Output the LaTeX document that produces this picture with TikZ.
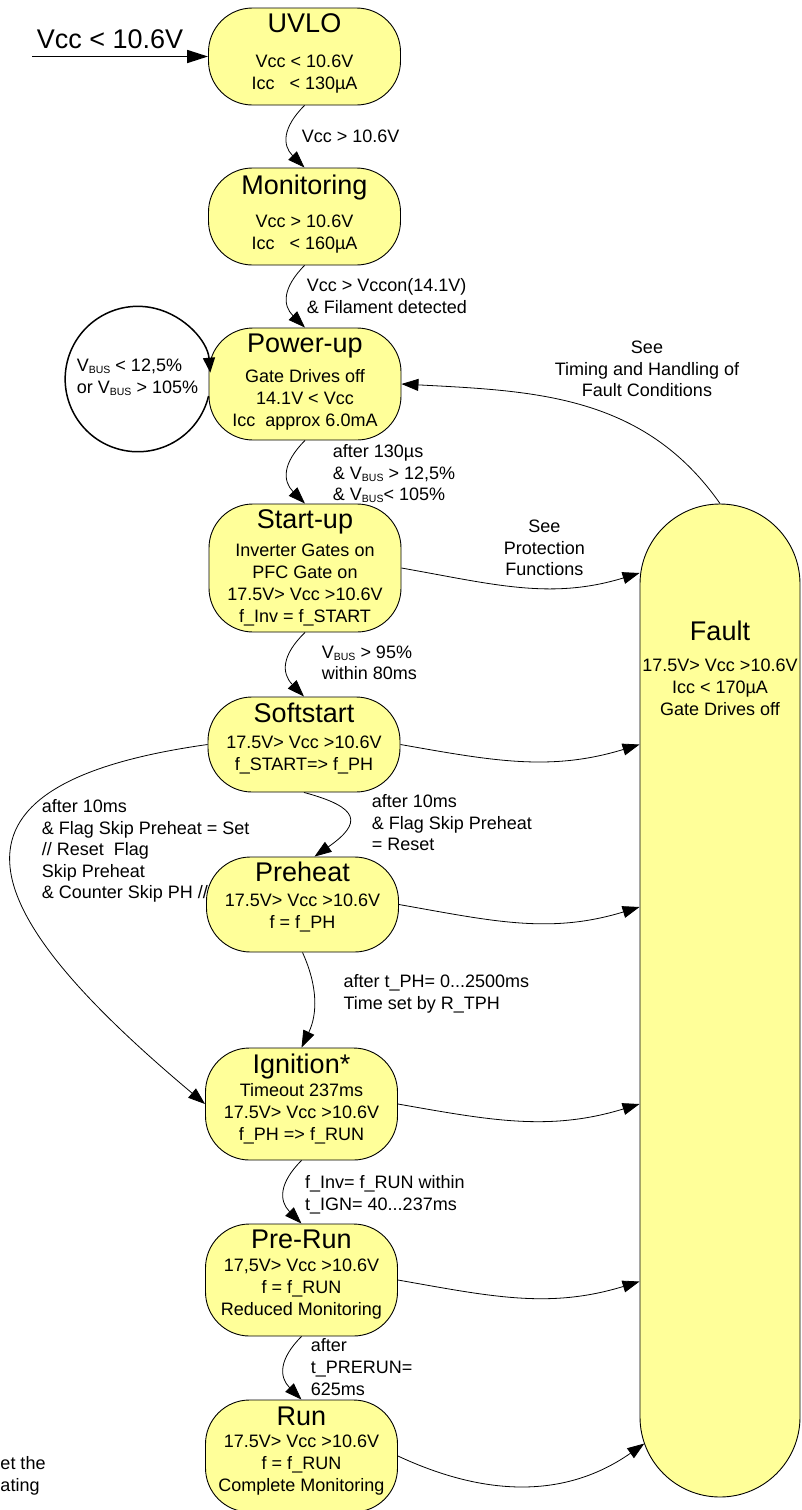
\documentclass[tikz,border=0pt]{standalone}
\usepackage{fontspec}
\setmainfont{Liberation Sans}
\usetikzlibrary{arrows.meta}
\usetikzlibrary{positioning}
\usetikzlibrary{calc}
\definecolor{stateyellow}{RGB}{255,255,153}
\newcommand{\ttl}[1]{{\fontsize{27}{27}\selectfont #1}}
\newcommand{\vbus}{V\raisebox{-2pt}{\fontsize{10.5}{10.5}\selectfont BUS}}
\newcommand{\lowr}[1]{\rule[-#1pt]{0pt}{0pt}}
\tikzset{
    state/.style={draw=black, line width=0.9pt, fill=stateyellow, rounded corners=44pt,
        minimum width=192pt, inner sep=0pt, align=center, font=\fontsize{18}{22}\selectfont},
    faultbox/.style={draw=black, line width=0.9pt, fill=stateyellow, rounded corners=80pt,
        minimum width=160pt, minimum height=993pt, inner sep=0pt},
    cond/.style={inner sep=0pt, align=left, anchor=north west, font=\fontsize{18}{21.6}\selectfont},
    trans/.style={draw=black, line width=0.8pt, -{Triangle[length=17pt,width=12pt]}},
    feed/.style={draw=black, line width=1.6pt, -{Triangle[length=21pt,width=13pt]}},
    selfloop/.style={draw=black, line width=1.5pt, -{Triangle[length=15pt,width=12pt]}},
    drop/.style={bend right=45, looseness=1.3},
    tofault/.style={out=-10, in=197},
}
\begin{document}
\begin{tikzpicture}[x=1pt, y=1pt]
    \useasboundingbox (0,0) rectangle (801,-1510);
    % states
    \node[state, minimum height=97pt] (uvlo) at (304.5,-56.5)
        {\ttl{UVLO}\\[12.7pt] Vcc < 10.6V\\ Icc\ \ \ < 130µA\lowr{9.8}};
    \node[state, minimum height=97pt] (mon) at (304.5,-216.5)
        {\ttl{Monitoring}\\[11.4pt] Vcc > 10.6V\\ Icc\ \ \ < 160µA\lowr{8.5}};
    \node[state, minimum height=112pt] (pwr) at (305,-384)
        {\ttl{Power-up}\\[8pt] Gate Drives off\\ 14.1V < Vcc\\ Icc\ \ approx 6.0mA\lowr{6.9}};
    \node[state, minimum height=128pt] (start) at (305,-568)
        {\ttl{Start-up}\\[6.3pt] Inverter Gates on\\ PFC Gate on\\ 17.5V> Vcc >10.6V\\ f\_Inv = f\_START};
    \node[state, minimum height=95pt] (soft) at (304,-744.5)
        {\ttl{Softstart}\\[4pt] 17.5V> Vcc >10.6V\\ f\_START=> f\_PH\lowr{16.5}};
    \node[state, minimum height=95pt] (pre) at (302.5,-904.5)
        {\ttl{Preheat}\\[3pt] 17.5V> Vcc >10.6V\\ f = f\_PH\lowr{18.1}};
    \node[state, minimum height=112pt] (ign) at (301.5,-1104)
        {\ttl{Ignition*}\\[0.7pt] Timeout 237ms\\ 17.5V> Vcc >10.6V\\ f\_PH => f\_RUN\lowr{14.2}};
    \node[state, minimum height=112pt] (prerun) at (301.5,-1280)
        {\ttl{Pre-Run}\\[0.4pt] 17,5V> Vcc >10.6V\\ f = f\_RUN\\ Reduced Monitoring\lowr{14.5}};
    \node[state, minimum height=112pt] (run) at (301.5,-1456)
        {\ttl{Run}\\ 17.5V> Vcc >10.6V\\ f = f\_RUN\\ Complete Monitoring\lowr{13.5}};
    %
    \node[faultbox] (fault) at (720,-1000.5) {};
    \node[inner sep=0pt, align=center, font=\fontsize{18}{22}\selectfont, below=117.4pt of fault.north] (faulttxt)
        {\ttl{Fault}\\[9pt] 17.5V> Vcc >10.6V\\ Icc < 170µA\\ Gate Drives off};
    % entry
    \coordinate (vin) at (32,-56.5);
    \draw[feed] (vin) -- (uvlo.west);
    \node[cond, font=\fontsize{27}{27}\selectfont] (vinl) at (36.7,-29) {Vcc < 10.6V};
    % main sequence
    \draw[trans] (uvlo.south) to[drop] (mon.north);
    \draw[trans] (mon.south) to[drop] (pwr.north);
    \draw[trans] (pwr.south) to[drop] (start.north);
    \draw[trans] (start.south) to[drop] (soft.north);
    \draw[trans] (soft.south) to[out=-15, in=35, looseness=2.3] ([xshift=12pt]pre.north);
    \draw[trans] (soft.west) to[out=188, in=140, looseness=2.1] (ign.west);
    \draw[trans] (pre.south) to[bend left=25] (ign.north);
    \draw[trans] (ign.south) to[drop] (prerun.north);
    \draw[trans] (prerun.south) to[drop] (run.north);
    % self loop on power-up
    \draw[selfloop] ([yshift=-12pt]pwr.west) arc[start angle=-13.5, end angle=-355, radius=72.7pt];
    % into fault
    \draw[trans] (start.east) to[tofault] ($(fault.west |- start.east)+(0,-5)$);
    \draw[trans] (soft.east) to[tofault] (fault.west |- soft.east);
    \draw[trans] (pre.east) to[tofault] ($(fault.west |- pre.east)+(0,-2.5)$);
    \draw[trans] (ign.east) to[tofault] (fault.west |- ign.east);
    \draw[trans] (prerun.east) to[tofault] ($(fault.west |- prerun.east)+(0,-1.5)$);
    \coordinate (runin) at ($(fault.south)+(0,80)+(199:80)$);
    \draw[trans] (run.east) to[out=-25, in=215] (runin);
    \draw[trans] (fault.north) to[out=125, in=-3] (pwr.east);
    % conditions
    \node[cond] (c1) at (301.7,-130) {Vcc > 10.6V};
    \node[cond] (c2) at (306.7,-278.5) {Vcc > Vccon(14.1V)\\\& Filament detected};
    \node[cond] (c3) at (332.7,-444.5) {after 130µs\\\& \vbus{} > 12,5\%\\\& \vbus< 105\%};
    \node[cond] (c4) at (321.7,-645.3) {\vbus{} > 95\%\\within 80ms};
    \node[cond] (c5) at (371.7,-794.2) {after 10ms\\\& Flag Skip Preheat\\= Reset};
    \node[cond] (c6) at (41.7,-799.2) {after 10ms\\\& Flag Skip Preheat = Set\\// Reset\ \ Flag\\Skip Preheat\\\& Counter Skip PH //};
    \node[cond] (c7) at (343.3,-974.2) {after t\_PH= 0...2500ms\\Time set by R\_TPH};
    \node[cond] (c8) at (305,-1175.2) {f\_Inv= f\_RUN within\\t\_IGN= 40...237ms};
    \node[cond] (c9) at (310.7,-1338.6) {after\\t\_PRERUN=\\625ms};
    \node[cond] (c10) at (76.7,-359) {\vbus{} < 12,5\%\\or \vbus{} > 105\%};
    \node[cond, align=center, anchor=north] (c11) at (544.3,-520) {See\\Protection\\Functions};
    \node[cond, align=center, anchor=north] (c12) at (647,-341) {See\\Timing and Handling of\\Fault Conditions};
    \node[cond] (c13) at (0.3,-1456.6) {et the\\ating};
\end{tikzpicture}
\end{document}
